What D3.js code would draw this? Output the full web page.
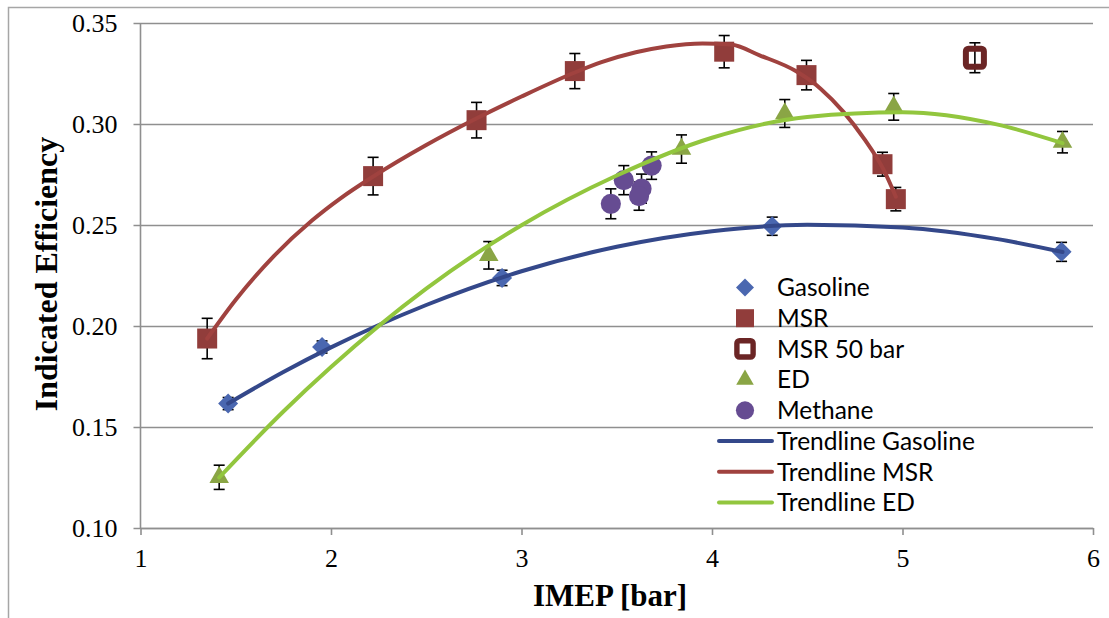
<!DOCTYPE html>
<html>
<head>
<meta charset="utf-8">
<script src="https://cdn.jsdelivr.net/npm/d3@7"></script>
<style>
  body { margin: 0; background: #fff; }
  svg { display: block; }
</style>
</head>
<body>
<div id="chart-container"></div>
<script>
const d3 = window.d3;

const chartWidth = 1109;
const chartHeight = 618;

// Measured points (IMEP [bar], indicated efficiency, error)
const gasolineX = [1.46, 1.953, 2.898, 4.316, 5.835];
const gasolineY = [0.1616, 0.1896, 0.2238, 0.2494, 0.2367];
const gasolineErr = [0.003, 0.003, 0.0038, 0.0045, 0.0047];

const msrX = [1.35, 2.221, 2.764, 3.28, 4.064, 4.496, 4.895, 4.965];
const msrY = [0.1938, 0.2742, 0.3019, 0.3262, 0.3358, 0.3242, 0.2801, 0.2628];
const msrErr = [0.01, 0.0093, 0.0088, 0.0087, 0.008, 0.0073, 0.0059, 0.0058];

const msr50X = [5.38];
const msr50Y = [0.3328];
const msr50Err = [0.0074];

const edX = [1.413, 2.828, 3.84, 4.382, 4.954, 5.84];
const edY = [0.1251, 0.2350, 0.2876, 0.3052, 0.3085, 0.2910];
const edErr = [0.006, 0.0068, 0.007, 0.0069, 0.0066, 0.0053];

const methaneX = [3.469, 3.537, 3.63, 3.617, 3.683];
const methaneY = [0.2605, 0.2722, 0.268, 0.2643, 0.2794];
const methaneErr = [0.0074, 0.0072, 0.0072, 0.007, 0.0068];

// Trendlines
const gasTrendX = [1.46, 1.75, 2.0, 2.5, 3.0, 3.5, 4.0, 4.5, 5.0, 5.5, 5.84];
const gasTrendY = [0.1616, 0.1772, 0.1894, 0.2104, 0.2271, 0.2392, 0.2469, 0.2501, 0.2488, 0.2430, 0.2366];

const msrTrendX = [1.35, 1.5, 1.7, 1.9, 2.05, 2.22, 2.5, 2.76, 3.0, 3.28, 3.42, 3.6, 3.76, 3.95, 4.1, 4.25, 4.44, 4.57, 4.69, 4.8, 4.9, 4.965];
const msrTrendY = [0.1938, 0.213, 0.2346, 0.2522, 0.2632, 0.2739, 0.2896, 0.3026, 0.3136, 0.3255, 0.3306, 0.3355, 0.3384, 0.3399, 0.3393, 0.334, 0.3262, 0.3175, 0.306, 0.2925, 0.2775, 0.264];

const edTrendX = [1.413, 1.75, 2.0, 2.5, 3.0, 3.5, 4.0, 4.5, 5.0, 5.5, 5.84];
const edTrendY = [0.125, 0.1577, 0.1797, 0.2185, 0.2499, 0.2745, 0.2932, 0.3035, 0.3058, 0.2997, 0.2905];

const xTicks = [1, 2, 3, 4, 5, 6];
const yTicks = [0.10, 0.15, 0.20, 0.25, 0.30, 0.35];

const legendLabels = ['Gasoline', 'MSR', 'MSR 50 bar', 'ED', 'Methane',
  'Trendline Gasoline', 'Trendline MSR', 'Trendline ED'];

const zip = (xs, ys, es) => xs.map((v, i) => ({ x: v, y: ys[i], e: es ? es[i] : 0 }));

const series = [
  { name: 'Gasoline', pts: zip(gasolineX, gasolineY, gasolineErr), kind: 'diamond', color: '#4a67b0' },
  { name: 'MSR', pts: zip(msrX, msrY, msrErr), kind: 'square', color: '#913d3b' },
  { name: 'MSR 50 bar', pts: zip(msr50X, msr50Y, msr50Err), kind: 'hollow', color: '#6b2525' },
  { name: 'ED', pts: zip(edX, edY, edErr), kind: 'triangle', color: '#8aa545' },
  { name: 'Methane', pts: zip(methaneX, methaneY, methaneErr), kind: 'circle', color: '#664c92' }
];

const trends = [
  { name: 'Trendline Gasoline', pts: zip(gasTrendX, gasTrendY), color: '#34488a' },
  { name: 'Trendline MSR', pts: zip(msrTrendX, msrTrendY), color: '#a0423f' },
  { name: 'Trendline ED', pts: zip(edTrendX, edTrendY), color: '#92c63e' }
];

const svg = d3.select('#chart-container')
  .append('svg')
  .attr('width', chartWidth)
  .attr('height', chartHeight);

// outer chart border
svg.append('rect')
  .attr('x', 8.5).attr('y', 7.5)
  .attr('width', 1120).attr('height', 700)
  .attr('fill', 'none')
  .attr('stroke', '#a6a6a6')
  .attr('stroke-width', 1.5);

const xScale = d3.scaleLinear().domain([1, 6]).range([140.5, 1093]);
const yScale = d3.scaleLinear().domain([0.1, 0.35]).range([528, 23]);

const gridColor = '#8f8f8f';
const serif = '"Liberation Serif", "Times New Roman", serif';

// y axis with gridlines
const yAxis = d3.axisLeft(yScale)
  .tickValues(yTicks)
  .tickFormat(d3.format('.2f'))
  .tickSize(-(xScale(6) - xScale(1) + 7))
  .tickPadding(16);

const yg = svg.append('g')
  .attr('transform', `translate(${xScale(1) - 7},0)`)
  .call(yAxis);
yg.select('.domain').remove();
yg.selectAll('line').attr('stroke', gridColor).attr('stroke-width', 1.6);
yg.selectAll('text')
  .attr('font-family', serif)
  .attr('font-size', 26)
  .attr('fill', '#000');

svg.append('line')
  .attr('x1', xScale(1)).attr('x2', xScale(1))
  .attr('y1', yScale(0.35)).attr('y2', yScale(0.1))
  .attr('stroke', gridColor).attr('stroke-width', 1.6);

// x axis
const xAxis = d3.axisBottom(xScale)
  .tickValues(xTicks)
  .tickFormat(d3.format('d'))
  .tickSizeInner(7)
  .tickSizeOuter(0)
  .tickPadding(14);

const xg = svg.append('g')
  .attr('transform', `translate(0,${yScale(0.1)})`)
  .call(xAxis);
xg.select('.domain').attr('stroke', gridColor).attr('stroke-width', 1.6);
xg.selectAll('line').attr('stroke', gridColor).attr('stroke-width', 1.6);
xg.selectAll('text')
  .attr('font-family', serif)
  .attr('font-size', 26)
  .attr('fill', '#000');

// axis titles
svg.append('text')
  .attr('x', 610).attr('y', 606)
  .attr('text-anchor', 'middle')
  .attr('font-family', serif)
  .attr('font-weight', 'bold')
  .attr('font-size', 31)
  .text('IMEP [bar]');

svg.append('text')
  .attr('transform', 'translate(57,274) rotate(-90)')
  .attr('text-anchor', 'middle')
  .attr('font-family', serif)
  .attr('font-weight', 'bold')
  .attr('font-size', 32)
  .text('Indicated Efficiency');

// marker drawing
const drawMarker = (sel, kind, color, scale) => {
  const k = scale || 1;
  if (kind === 'diamond') {
    sel.append('path')
      .attr('d', d3.symbol(d3.symbolSquare, 200 * k * k)())
      .attr('transform', 'rotate(45)')
      .attr('fill', color);
  } else if (kind === 'square') {
    sel.append('path')
      .attr('d', d3.symbol(d3.symbolSquare, 400 * k * k)())
      .attr('fill', color);
  } else if (kind === 'hollow') {
    sel.append('rect')
      .attr('x', -9 * k).attr('y', -9 * k)
      .attr('width', 18 * k).attr('height', 18 * k)
      .attr('rx', 2.5)
      .attr('fill', 'none')
      .attr('stroke', color)
      .attr('stroke-width', 6 * k);
  } else if (kind === 'triangle') {
    sel.append('path')
      .attr('d', d3.symbol(d3.symbolTriangle, 165 * k * k)())
      .attr('fill', color);
  } else {
    sel.append('path')
      .attr('d', d3.symbol(d3.symbolCircle, 320 * k * k)())
      .attr('fill', color);
  }
};

// series: error bars then markers
series.forEach((s) => {
  const g = svg.append('g').attr('class', 'series');
  const eb = g.selectAll('.err')
    .data(s.pts)
    .enter()
    .append('g')
    .attr('class', 'err')
    .attr('stroke', '#000')
    .attr('stroke-width', 1.6);
  eb.append('line')
    .attr('x1', (d) => xScale(d.x)).attr('x2', (d) => xScale(d.x))
    .attr('y1', (d) => yScale(d.y + d.e)).attr('y2', (d) => yScale(d.y - d.e));
  eb.append('line')
    .attr('x1', (d) => xScale(d.x) - 5.5).attr('x2', (d) => xScale(d.x) + 5.5)
    .attr('y1', (d) => yScale(d.y + d.e)).attr('y2', (d) => yScale(d.y + d.e));
  eb.append('line')
    .attr('x1', (d) => xScale(d.x) - 5.5).attr('x2', (d) => xScale(d.x) + 5.5)
    .attr('y1', (d) => yScale(d.y - d.e)).attr('y2', (d) => yScale(d.y - d.e));

  g.selectAll('.mark')
    .data(s.pts)
    .enter()
    .append('g')
    .attr('class', 'mark')
    .attr('transform', (d) => `translate(${xScale(d.x)},${yScale(d.y)})`)
    .each(function () {
      drawMarker(d3.select(this), s.kind, s.color);
    });
});

// trendlines
const line = d3.line()
  .x((d) => xScale(d.x))
  .y((d) => yScale(d.y))
  .curve(d3.curveMonotoneX);

trends.forEach((t) => {
  svg.append('path')
    .datum(t.pts)
    .attr('d', line)
    .attr('fill', 'none')
    .attr('stroke', t.color)
    .attr('stroke-width', 4)
    .attr('stroke-linecap', 'round');
});

// legend
const legendItems = legendLabels.map((label, i) => {
  const s = series.find((d) => d.name === label);
  const t = trends.find((d) => d.name === label);
  return { label, s, t, i };
});

const legend = svg.append('g').attr('class', 'legend');
const rows = legend.selectAll('g')
  .data(legendItems)
  .enter()
  .append('g')
  .attr('transform', (d) => `translate(745,${287.5 + d.i * 30.7})`);

rows.each(function (d) {
  const r = d3.select(this);
  if (d.s) {
    drawMarker(r, d.s.kind, d.s.color, 0.9);
  } else {
    r.append('line')
      .attr('x1', -26).attr('x2', 27)
      .attr('stroke', d.t.color)
      .attr('stroke-width', 4)
      .attr('stroke-linecap', 'round');
  }
});

rows.append('text')
  .attr('x', 32)
  .attr('dy', '0.36em')
  .attr('font-family', 'Lato, "Open Sans", sans-serif')
  .attr('font-size', 24.5)
  .attr('fill', '#000')
  .text((d) => d.label);
</script>
</body>
</html>
